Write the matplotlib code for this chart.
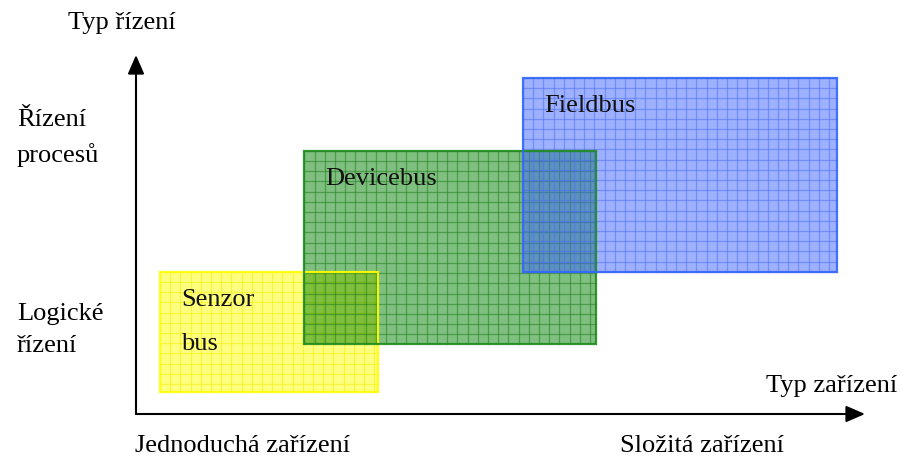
import numpy as np
import matplotlib
matplotlib.use("Agg")
import matplotlib.pyplot as plt
from matplotlib.patches import Rectangle

plt.rcParams['font.family'] = ['Liberation Serif', 'DejaVu Serif']

# Data: conceptual coordinates (0-100 on both axes)
bus_names = ["Senzor\n\nbus", "Devicebus", "Fieldbus"]
x_start = [3.3, 23.1, 53.1]
x_end = [33.2, 63.1, 96.1]
y_start = [6.1, 19.5, 39.6]
y_end = [39.6, 73.3, 93.6]
bus_colors = ["#FFFF00", "#008000", "#3C64FF"]
edge_colors = ["#FFFF00", "#1E8C1E", "#3366FF"]
grid_colors = ["#EEEE00", "#1A7A1A", "#4A6CF0"]

y_axis_title = "Typ řízení"
x_axis_title = "Typ zařízení"
y_levels = ["Logické\nřízení", "Řízení\nprocesů"]
x_levels = ["Jednoduchá zařízení", "Složitá zařízení"]

W, H = 901, 458
fig = plt.figure(figsize=(W / 100, H / 100), dpi=100)
ox, oy = 136, 414
tx, ty = 865, 55
ax = fig.add_axes([ox / W, (H - oy) / H, (tx - ox) / W, (oy - ty) / H])
ax.set_xlim(0, 100)
ax.set_ylim(0, 100)
ax.axis('off')

px_x = 100 / (tx - ox)   # data units per pixel
px_y = 100 / (oy - ty)
step = 10.2
fs = 19

for name, x0, x1, y0, y1, fc, ec, gc in zip(bus_names, x_start, x_end, y_start, y_end,
                                            bus_colors, edge_colors, grid_colors):
    ax.add_patch(Rectangle((x0, y0), x1 - x0, y1 - y0, facecolor=fc, alpha=0.5,
                           edgecolor='none', zorder=2))
    for gx in np.arange(x0, x1, step * px_x):
        ax.plot([gx, gx], [y0, y1], color=gc, lw=0.9, alpha=0.5, zorder=2)
    for gy in np.arange(y1, y0, -step * px_y):
        ax.plot([x0, x1], [gy, gy], color=gc, lw=0.9, alpha=0.5, zorder=2)
    ax.add_patch(Rectangle((x0, y0), x1 - x0, y1 - y0, facecolor='none',
                           edgecolor=ec, lw=1.6, alpha=0.9, zorder=3))
    ax.text(x0 + 21 * px_x, y1 - 17 * px_y, name, fontsize=fs, va='top', ha='left',
            color='#111111', zorder=4, linespacing=1.0)

arrow = dict(arrowstyle='-|>,head_length=1.15,head_width=0.5', mutation_scale=10,
             lw=1.5, color='black', shrinkA=0, shrinkB=0)
ax.annotate('', xy=(0, 100), xytext=(0, 0), arrowprops=arrow, annotation_clip=False)
ax.annotate('', xy=(100, 0), xytext=(0, 0), arrowprops=arrow, annotation_clip=False)

fig.text(68 / W, 1 - 23 / H, y_axis_title, fontsize=fs, va='center', ha='left')
fig.text(897 / W, 1 - 386 / H, x_axis_title, fontsize=fs, va='center', ha='right')
fig.text(17 / W, 1 - 330 / H, y_levels[0], fontsize=fs, va='center', ha='left', linespacing=1.6)
fig.text(17 / W, 1 - 138 / H, y_levels[1], fontsize=fs, va='center', ha='left', linespacing=1.65)
fig.text(135 / W, 1 - 446 / H, x_levels[0], fontsize=fs, va='center', ha='left')
fig.text(620 / W, 1 - 446 / H, x_levels[1], fontsize=fs, va='center', ha='left')

fig.savefig("out.png", dpi=100)
